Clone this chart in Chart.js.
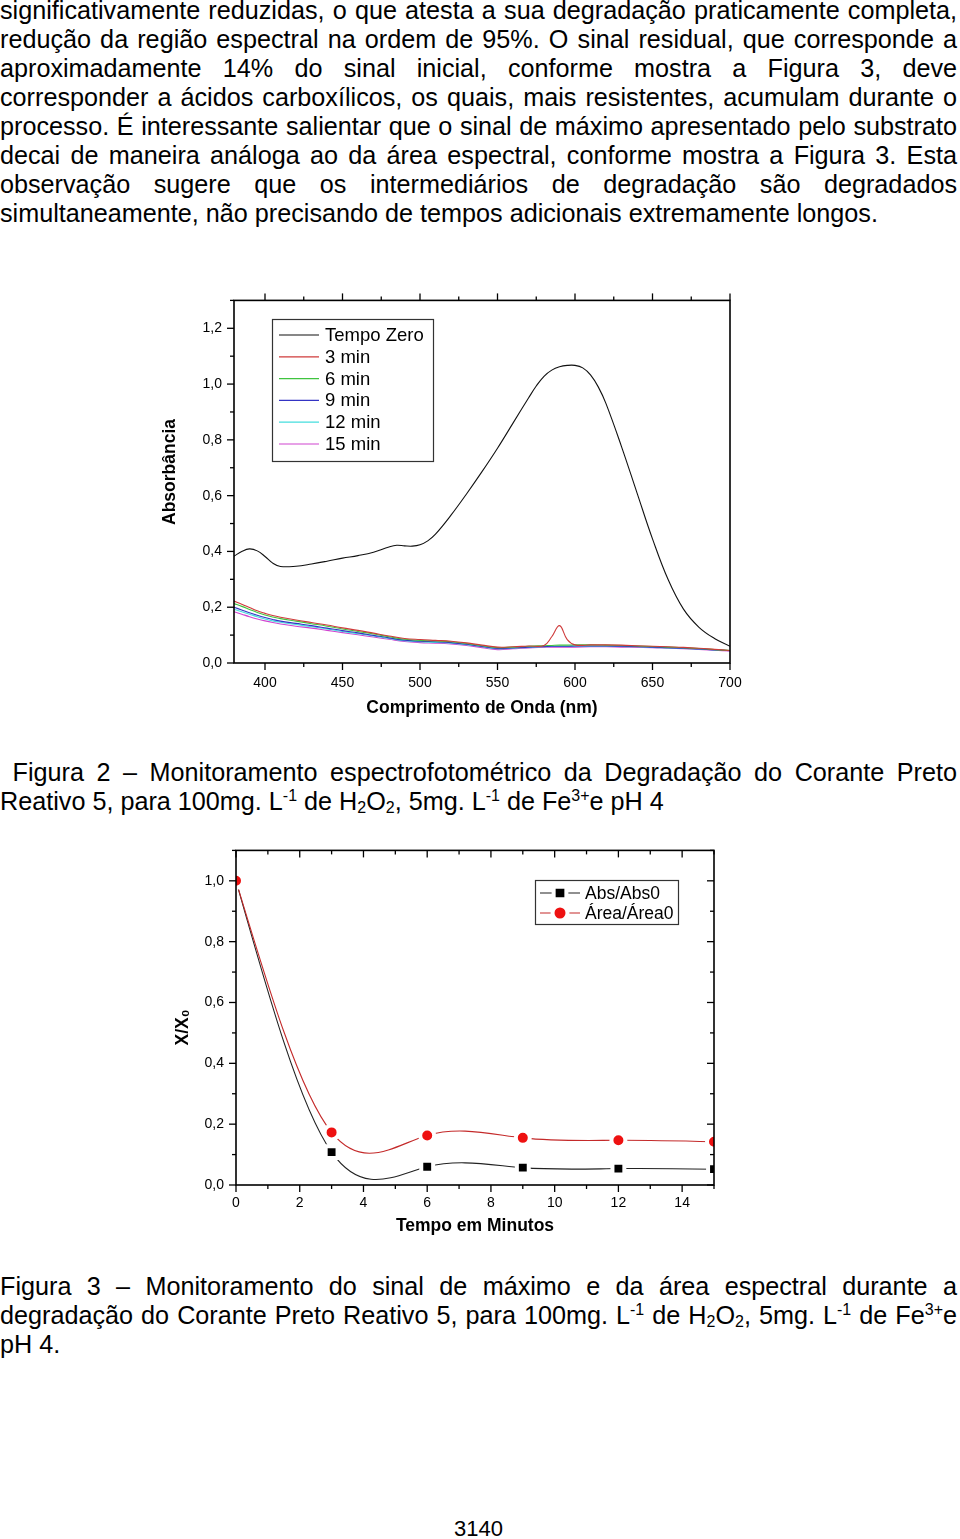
<!DOCTYPE html>
<html><head><meta charset="utf-8">
<script src="https://cdn.jsdelivr.net/npm/chart.js@4/dist/chart.umd.min.js"></script>
<style>
html,body{margin:0;padding:0;background:#fff;}
body{width:960px;height:1539px;position:relative;overflow:hidden;font-family:'Liberation Sans',Arial,sans-serif;color:#000;}
.blk{position:absolute;left:0;width:957px;font-size:25.2px;line-height:29px;}
.j{text-align:justify;text-align-last:justify;}
.l{text-align:left;}
sup{font-size:16px;line-height:0;vertical-align:9px;}
sub{font-size:16px;line-height:0;vertical-align:-3px;}
canvas{position:absolute;}
#pg{position:absolute;left:0;width:957px;top:1514px;text-align:center;font-size:22px;line-height:29px;}
</style></head>
<body>
<div class="blk" style="top:-4px">
<div class="j">significativamente reduzidas, o que atesta a sua degradação praticamente completa,</div>
<div class="j">redução da região espectral na ordem de 95%. O sinal residual, que corresponde a</div>
<div class="j">aproximadamente 14% do sinal inicial, conforme mostra a Figura 3, deve</div>
<div class="j">corresponder a ácidos carboxílicos, os quais, mais resistentes, acumulam durante o</div>
<div class="j">processo. É interessante salientar que o sinal de máximo apresentado pelo substrato</div>
<div class="j">decai de maneira análoga ao da área espectral, conforme mostra a Figura 3. Esta</div>
<div class="j">observação sugere que os intermediários de degradação são degradados</div>
<div class="l">simultaneamente, não precisando de tempos adicionais extremamente longos.</div>
</div>

<canvas id="c1" width="610" height="450" style="left:150px;top:280px"></canvas>

<div class="blk" style="top:758px">
<div class="j">&nbsp;Figura 2 – Monitoramento espectrofotométrico da Degradação do Corante Preto</div>
<div class="l">Reativo 5, para 100mg. L<sup>-1</sup> de H<sub>2</sub>O<sub>2</sub>, 5mg. L<sup>-1</sup> de Fe<sup>3+</sup>e pH 4</div>
</div>

<canvas id="c2" width="600" height="420" style="left:150px;top:830px"></canvas>

<div class="blk" style="top:1272px">
<div class="j">Figura 3 – Monitoramento do sinal de máximo e da área espectral durante a</div>
<div class="j">degradação do Corante Preto Reativo 5, para 100mg. L<sup>-1</sup> de H<sub>2</sub>O<sub>2</sub>, 5mg. L<sup>-1</sup> de Fe<sup>3+</sup>e</div>
<div class="l">pH 4.</div>
</div>

<div id="pg">3140</div>

<script>
// ---------- Figure 2 data (UV-Vis spectra) ----------
const wavelengths = [380,385,390,395,400,405,410,420,430,440,450,460,470,480,485,490,495,500,505,510,520,530,540,550,560,570,575,580,585,590,595,600,605,610,615,620,630,640,650,660,670,680,690,700];
const tempoZero = [0.383,0.400,0.409,0.402,0.382,0.358,0.346,0.347,0.355,0.365,0.376,0.385,0.397,0.416,0.422,0.420,0.419,0.424,0.438,0.462,0.530,0.606,0.686,0.770,0.860,0.950,0.993,1.028,1.050,1.062,1.067,1.067,1.058,1.033,0.990,0.930,0.776,0.610,0.445,0.300,0.193,0.128,0.088,0.060];
const wavelengthsLow = [380,385,390,395,400,405,410,420,430,440,450,460,470,480,490,500,510,520,530,540,550,560,570,580,585,590,595,600,610,620,630,640,650,660,670,680,690,700];
const min3 = [0.222,0.211,0.199,0.187,0.178,0.170,0.164,0.154,0.145,0.136,0.126,0.117,0.107,0.097,0.088,0.084,0.081,0.078,0.072,0.064,0.057,0.058,0.061,0.063,0.094,0.134,0.084,0.065,0.065,0.065,0.064,0.062,0.060,0.058,0.056,0.053,0.049,0.045];
const min6 = [0.213,0.203,0.192,0.181,0.172,0.165,0.159,0.150,0.141,0.132,0.122,0.113,0.104,0.094,0.085,0.081,0.079,0.076,0.070,0.062,0.055,0.057,0.060,0.062,0.063,0.064,0.064,0.065,0.065,0.064,0.063,0.061,0.059,0.057,0.055,0.052,0.048,0.045];
const min9 = [0.200,0.190,0.180,0.171,0.163,0.156,0.150,0.142,0.134,0.125,0.116,0.108,0.099,0.090,0.082,0.078,0.076,0.073,0.067,0.059,0.052,0.054,0.057,0.059,0.060,0.060,0.060,0.061,0.061,0.061,0.060,0.059,0.057,0.055,0.053,0.050,0.047,0.044];
const min12 = [0.193,0.184,0.175,0.166,0.158,0.151,0.146,0.138,0.130,0.122,0.113,0.105,0.097,0.088,0.080,0.076,0.074,0.071,0.066,0.058,0.051,0.053,0.056,0.058,0.059,0.059,0.059,0.060,0.060,0.060,0.059,0.058,0.056,0.054,0.052,0.050,0.047,0.045];
const min15 = [0.184,0.175,0.166,0.158,0.151,0.145,0.140,0.132,0.125,0.117,0.109,0.101,0.093,0.085,0.077,0.073,0.071,0.068,0.063,0.055,0.048,0.051,0.054,0.056,0.057,0.057,0.057,0.057,0.058,0.058,0.057,0.056,0.055,0.053,0.051,0.049,0.046,0.043];
const spectraLabels = ['Tempo Zero','3 min','6 min','9 min','12 min','15 min'];
const spectraColors = ['#111111','#cf3b3b','#3fc43f','#3434c4','#45dede','#d044d0'];
const spectraTicksX = [400,450,500,550,600,650,700];
const spectraTicksY = [0,0.2,0.4,0.6,0.8,1.0,1.2];

// ---------- Figure 3 data ----------
const times = [0,3,6,9,12,15];
const absRatio = [1.0,0.108,0.060,0.057,0.054,0.052];
const areaRatio = [1.0,0.173,0.163,0.155,0.147,0.142];
const ratioLabels = ['Abs/Abs0','Área/Área0'];
const timeTicksX = [0,2,4,6,8,10,12,14];
const ratioTicksY = [0,0.2,0.4,0.6,0.8,1.0];

Chart.defaults.font.family = "'Liberation Sans', Arial, sans-serif";
Chart.defaults.color = '#000';

const pts = (xs, ys) => xs.map((x, i) => ({x, y: ys[i]}));
const comma = v => v.toFixed(1).replace('.', ',');
const isMult = (v, s) => Math.abs(v / s - Math.round(v / s)) < 1e-6;
const fixedTicks = arr => s => { s.ticks = arr.map(v => ({value: v})); };

// Line element drawn as a natural cubic spline through its (scale-mapped) points, like Origin's spline connect
class SplineCurve extends Chart.LineElement {
  updateControlPoints(chartArea, indexAxis) {
    if (this._pointsUpdated) return;
    const p = (this._points || []).filter(q => !q.skip);
    const n = p.length;
    if (n >= 3) {
      const h = [], M = new Array(n).fill(0);
      for (let i = 0; i < n - 1; i++) h.push(p[i + 1].x - p[i].x);
      const a = [], b = [], c = [], d = [];
      for (let i = 1; i < n - 1; i++) {
        a.push(h[i - 1]); b.push(2 * (h[i - 1] + h[i])); c.push(h[i]);
        d.push(6 * ((p[i + 1].y - p[i].y) / h[i] - (p[i].y - p[i - 1].y) / h[i - 1]));
      }
      const m = b.length;
      for (let i = 1; i < m; i++) { const w = a[i] / b[i - 1]; b[i] -= w * c[i - 1]; d[i] -= w * d[i - 1]; }
      const sol = new Array(m);
      sol[m - 1] = d[m - 1] / b[m - 1];
      for (let i = m - 2; i >= 0; i--) sol[i] = (d[i] - c[i] * sol[i + 1]) / b[i];
      for (let i = 0; i < m; i++) M[i + 1] = sol[i];
      for (let i = 0; i < n; i++) {
        if (i < n - 1) {
          const s = (p[i + 1].y - p[i].y) / h[i] - h[i] * (2 * M[i] + M[i + 1]) / 6;
          p[i].cp2x = p[i].x + h[i] / 3; p[i].cp2y = p[i].y + s * h[i] / 3;
        } else { p[i].cp2x = p[i].x; p[i].cp2y = p[i].y; }
        if (i > 0) {
          const s = (p[i].y - p[i - 1].y) / h[i - 1] + h[i - 1] * (M[i - 1] + 2 * M[i]) / 6;
          p[i].cp1x = p[i].x - h[i - 1] / 3; p[i].cp1y = p[i].y - s * h[i - 1] / 3;
        } else { p[i].cp1x = p[i].x; p[i].cp1y = p[i].y; }
      }
    }
    this._pointsUpdated = true;
  }
  draw(ctx, chartArea, start, count) {
    this.updateControlPoints(chartArea);
    super.draw(ctx, chartArea, start, count);
  }
}
SplineCurve.id = 'splineCurve';
class SplineController extends Chart.LineController {}
SplineController.id = 'splineChart';
SplineController.defaults = Object.assign({}, Chart.LineController.defaults, {datasetElementType: 'splineCurve'});
Chart.register(SplineCurve, SplineController);

// frame + major/minor tick marks drawn via the scales
const frameTicks = {
  id: 'frameTicks',
  afterDatasetsDraw(chart, args, o) {
    if (!o || !o.sides) return;
    const {ctx, chartArea: a} = chart;
    ctx.save();
    ctx.strokeStyle = '#000';
    ctx.lineWidth = o.lineWidth;
    ctx.strokeRect(a.left, a.top, a.right - a.left, a.bottom - a.top);
    ctx.lineWidth = 1.3;
    for (const s of o.sides) {
      const scale = chart.scales[s.axis];
      const n = Math.round((s.to - s.from) / s.step);
      for (let k = 0; k <= n; k++) {
        const v = s.from + k * s.step;
        const len = isMult(v, s.major) ? o.majorLen : o.minorLen;
        const p = scale.getPixelForValue(v);
        ctx.beginPath();
        if (s.side === 'bottom') { ctx.moveTo(p, a.bottom); ctx.lineTo(p, a.bottom + s.dir * len); }
        if (s.side === 'top') { ctx.moveTo(p, a.top); ctx.lineTo(p, a.top - s.dir * len); }
        if (s.side === 'left') { ctx.moveTo(a.left, p); ctx.lineTo(a.left - s.dir * len, p); }
        if (s.side === 'right') { ctx.moveTo(a.right, p); ctx.lineTo(a.right + s.dir * len, p); }
        ctx.stroke();
      }
    }
    ctx.restore();
  }
};

const boxLegend = {
  id: 'boxLegend',
  afterDraw(chart, args, o) {
    if (!o || !o.box) return;
    const {ctx, chartArea: a} = chart;
    const bx = Math.round(a.left + o.box[0]), by = Math.round(a.top + o.box[1]);
    ctx.save();
    ctx.fillStyle = '#fff';
    ctx.fillRect(bx, by, o.box[2], o.box[3]);
    ctx.strokeStyle = '#333';
    ctx.lineWidth = 1.2;
    ctx.strokeRect(bx + 0.5, by + 0.5, o.box[2], o.box[3]);
    ctx.font = o.font;
    ctx.textBaseline = 'middle';
    chart.data.datasets.forEach((ds, i) => {
      const y = by + o.firstRow + i * o.rowH;
      ctx.strokeStyle = ds.borderColor;
      ctx.lineWidth = 1.2;
      ctx.beginPath(); ctx.moveTo(bx + o.line[0], y); ctx.lineTo(bx + o.line[1], y); ctx.stroke();
      if (o.markers) {
        ctx.fillStyle = ds.pointBackgroundColor;
        ctx.strokeStyle = '#fff';
        ctx.lineWidth = o.markerGap;
        Chart.helpers.drawPoint(ctx, {pointStyle: ds.pointStyle, radius: o.markers[i], borderWidth: o.markerGap, rotation: 0}, bx + (o.line[0] + o.line[1]) / 2, y);
      }
      ctx.fillStyle = '#000';
      ctx.fillText(ds.label, bx + o.textX, y + 1);
    });
    ctx.restore();
  }
};

// ---------- Chart 1 ----------
const spectraData = [tempoZero, min3, min6, min9, min12, min15];
new Chart(document.getElementById('c1'), {
  type: 'line',
  data: {
    datasets: spectraData.map((ys, i) => ({
      label: spectraLabels[i],
      data: i === 0 ? pts(wavelengths, ys) : pts(wavelengthsLow, ys),
      borderColor: spectraColors[i],
      borderWidth: 1.1,
      pointRadius: 0,
      tension: 0.4,
      fill: false
    }))
  },
  options: {
    responsive: false,
    animation: false,
    events: [],
    layout: {padding: {left: 0, right: 30, top: 19, bottom: 0}},
    plugins: {
      legend: {display: false},
      tooltip: {enabled: false},
      frameTicks: {
        lineWidth: 1.6, majorLen: 7, minorLen: 4,
        sides: [
          {axis: 'x', side: 'bottom', dir: 1, from: 400, to: 700, step: 25, major: 50},
          {axis: 'x', side: 'top', dir: 1, from: 400, to: 700, step: 25, major: 50},
          {axis: 'y', side: 'left', dir: 1, from: 0, to: 1.3, step: 0.1, major: 0.2}
        ]
      },
      boxLegend: {
        box: [38, 19, 161, 142], firstRow: 16, rowH: 21.8, line: [7, 47], textX: 53,
        font: "18.5px 'Liberation Sans', Arial, sans-serif"
      }
    },
    scales: {
      x: {
        type: 'linear', min: 380, max: 700,
        afterFit: s => { s.height = 67; },
        afterBuildTicks: fixedTicks(spectraTicksX),
        grid: {display: false, drawTicks: false},
        border: {display: false},
        ticks: {padding: 12, font: {size: 14}, maxRotation: 0, autoSkip: false, callback: v => String(v)},
        title: {display: true, text: 'Comprimento de Onda (nm)', font: {size: 17.5, weight: 'bold'}, padding: {top: 0, bottom: 11}}
      },
      y: {
        type: 'linear', min: 0, max: 1.3,
        afterFit: s => { s.width = 84; },
        afterBuildTicks: fixedTicks(spectraTicksY),
        grid: {display: false, drawTicks: false},
        border: {display: false},
        ticks: {padding: 12, font: {size: 14}, autoSkip: false, callback: v => comma(v)},
        title: {display: true, text: '    Absorbância', font: {size: 17.5, weight: 'bold'}, padding: {top: 10, bottom: 0}}
      }
    }
  },
  plugins: [frameTicks, boxLegend]
});

// ---------- Chart 2 ----------
new Chart(document.getElementById('c2'), {
  type: 'splineChart',
  data: {
    datasets: [
      {label: ratioLabels[0], data: pts(times, absRatio), borderColor: '#222222', borderWidth: 1.1,
       pointStyle: 'rect', pointRadius: 8.4, pointBackgroundColor: '#000', pointBorderColor: '#fff', pointBorderWidth: 4,
       tension: 0.4, clip: 0, order: 1},
      {label: ratioLabels[1], data: pts(times, areaRatio), borderColor: '#c42a2a', borderWidth: 1.1,
       pointStyle: 'circle', pointRadius: 7, pointBackgroundColor: '#ee1111', pointBorderColor: '#fff', pointBorderWidth: 4,
       tension: 0.4, clip: 0, order: 0}
    ]
  },
  options: {
    responsive: false,
    animation: false,
    events: [],
    layout: {padding: {left: 0, right: 36, top: 19, bottom: 0}},
    plugins: {
      legend: {display: false},
      tooltip: {enabled: false},
      frameTicks: {
        lineWidth: 1.6, majorLen: 7, minorLen: 4,
        sides: [
          {axis: 'x', side: 'bottom', dir: 1, from: 0, to: 15, step: 1, major: 2},
          {axis: 'x', side: 'top', dir: -1, from: 0, to: 15, step: 1, major: 2},
          {axis: 'y', side: 'left', dir: 1, from: 0, to: 1.1, step: 0.1, major: 0.2},
          {axis: 'y', side: 'right', dir: -1, from: 0, to: 1.1, step: 0.1, major: 0.2}
        ]
      },
      boxLegend: {
        box: [299, 30, 143, 44], firstRow: 13, rowH: 20, line: [5, 45], textX: 50,
        markers: [9, 7.5], markerGap: 4,
        font: "17.5px 'Liberation Sans', Arial, sans-serif"
      }
    },
    scales: {
      x: {
        type: 'linear', min: 0, max: 15,
        afterFit: s => { s.height = 65; },
        afterBuildTicks: fixedTicks(timeTicksX),
        grid: {display: false, drawTicks: false},
        border: {display: false},
        ticks: {padding: 10, font: {size: 14}, maxRotation: 0, autoSkip: false, callback: v => String(v)},
        title: {display: true, text: 'Tempo em Minutos', font: {size: 17.5, weight: 'bold'}, padding: {top: 0, bottom: 13}}
      },
      y: {
        type: 'linear', min: 0, max: 1.1,
        afterFit: s => { s.width = 86; },
        afterBuildTicks: fixedTicks(ratioTicksY),
        grid: {display: false, drawTicks: false},
        border: {display: false},
        ticks: {padding: 12, font: {size: 14}, autoSkip: false, callback: v => comma(v)},
        title: {display: true, text: 'X/X₀    ', font: {size: 17.5, weight: 'bold'}, padding: {top: 23, bottom: 0}}
      }
    }
  },
  plugins: [frameTicks, boxLegend]
});
</script>
</body></html>
